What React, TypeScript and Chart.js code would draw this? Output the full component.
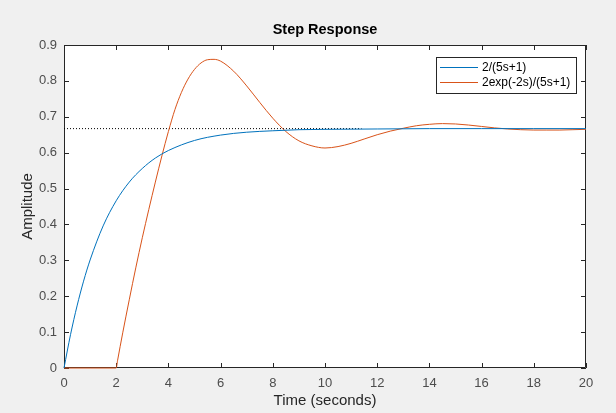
import React, { useEffect, useRef } from "react";
import { Chart, registerables } from "chart.js";

Chart.register(...registerables);

// Time samples (seconds)
const blueTimes = [0, 0.25, 0.5, 0.75, 1, 1.5, 2, 2.5, 3, 3.5, 4, 5, 6, 7, 8, 9, 10, 12, 14, 16, 18, 20];
const blueValues = [0, 0.093, 0.173, 0.242, 0.301, 0.396, 0.466, 0.518, 0.556, 0.585, 0.606, 0.634, 0.649, 0.657, 0.661, 0.664, 0.665, 0.666, 0.667, 0.667, 0.667, 0.667];

const orangeTimes = [0, 1, 2, 2.05, 2.25, 2.5, 2.75, 3, 3.25, 3.5, 3.75, 4, 4.25, 4.5, 4.75, 5, 5.25, 5.5, 5.75, 6, 6.5, 7, 7.5, 8, 8.5, 9, 9.5, 10, 10.5, 11, 11.5, 12, 12.5, 13, 13.5, 14, 14.5, 15, 15.5, 16, 16.5, 17, 17.5, 18, 18.5, 19, 19.5, 20];
const orangeValues = [0, 0, 0, 0.020, 0.098, 0.190, 0.279, 0.363, 0.442, 0.518, 0.591, 0.659, 0.720, 0.768, 0.805, 0.832, 0.850, 0.859, 0.860, 0.855, 0.827, 0.786, 0.740, 0.696, 0.659, 0.633, 0.619, 0.613, 0.617, 0.626, 0.638, 0.650, 0.660, 0.668, 0.675, 0.679, 0.681, 0.680, 0.677, 0.673, 0.669, 0.666, 0.664, 0.663, 0.663, 0.663, 0.664, 0.665];

const steadyTimes = [0, 11.4];
const steadyValues = [0.667, 0.667];

const seriesLabels = ["2/(5s+1)", "2exp(-2s)/(5s+1)"];
const xTicks = [0, 2, 4, 6, 8, 10, 12, 14, 16, 18, 20];
const yTicks = [0, 0.1, 0.2, 0.3, 0.4, 0.5, 0.6, 0.7, 0.8, 0.9];

const FONT = "'Liberation Sans', Arial, sans-serif";
const FRAME = "#262626";

const toPts = (xs: number[], ys: number[]) => xs.map((x, i) => ({ x, y: ys[i] }));

const framePlugin = {
  id: "matlabFrame",
  beforeDraw(chart: any) {
    const { ctx, chartArea: a, width, height } = chart;
    ctx.save();
    ctx.fillStyle = "#f0f0f0";
    ctx.fillRect(0, 0, width, height);
    ctx.fillStyle = "#ffffff";
    ctx.fillRect(a.left, a.top, a.right - a.left, a.bottom - a.top);
    ctx.restore();
  },
  beforeDatasetsDraw(chart: any) {
    const { ctx, chartArea: a, scales } = chart;
    ctx.save();
    ctx.strokeStyle = FRAME;
    ctx.lineWidth = 1;
    ctx.beginPath();
    ctx.rect(Math.round(a.left) + 0.5, Math.round(a.top) + 0.5, Math.round(a.right - a.left) - 1, Math.round(a.bottom - a.top) - 1);
    ctx.stroke();
    const tl = 5;
    ctx.beginPath();
    xTicks.forEach((v) => {
      const px = Math.round(scales.x.getPixelForValue(v)) + 0.5;
      ctx.moveTo(px, a.bottom);
      ctx.lineTo(px, a.bottom - tl);
      ctx.moveTo(px, a.top);
      ctx.lineTo(px, a.top + tl);
    });
    yTicks.forEach((v) => {
      const py = Math.round(scales.y.getPixelForValue(v)) + 0.5;
      ctx.moveTo(a.left, py);
      ctx.lineTo(a.left + tl, py);
      ctx.moveTo(a.right, py);
      ctx.lineTo(a.right - tl, py);
    });
    ctx.stroke();

    // Title
    ctx.fillStyle = "#000000";
    ctx.font = `bold 14.5px ${FONT}`;
    ctx.textAlign = "center";
    ctx.textBaseline = "middle";
    const cx = (a.left + a.right) / 2;
    ctx.fillText("Step Response", cx, a.top - 15);

    // Axis titles
    ctx.fillStyle = "#262626";
    ctx.font = `15px ${FONT}`;
    ctx.fillText("Time (seconds)", cx, a.bottom + 33);
    ctx.save();
    ctx.translate(28, (a.top + a.bottom) / 2);
    ctx.rotate(-Math.PI / 2);
    ctx.fillText("Amplitude", 0, 0);
    ctx.restore();
    ctx.restore();
  },
  afterDatasetsDraw(chart: any) {
    const { ctx, chartArea: a } = chart;
    ctx.save();
    // Legend
    const ds = chart.data.datasets;
    const lw = 140;
    const lh = 36;
    const lx = a.right - 10 - lw;
    const ly = a.top + 12;
    ctx.lineWidth = 1;
    ctx.fillStyle = "#ffffff";
    ctx.fillRect(lx, ly, lw, lh);
    ctx.strokeStyle = FRAME;
    ctx.strokeRect(lx + 0.5, ly + 0.5, lw, lh);
    ctx.font = `12px ${FONT}`;
    ctx.textAlign = "left";
    ctx.textBaseline = "middle";
    ctx.fillStyle = "#000000";
    [0, 1].forEach((i) => {
      const yy = ly + 10 + i * 15;
      ctx.strokeStyle = ds[i].borderColor;
      ctx.beginPath();
      ctx.moveTo(lx + 4, yy + 0.5);
      ctx.lineTo(lx + 42, yy + 0.5);
      ctx.stroke();
      ctx.fillText(seriesLabels[i], lx + 46, yy + 1);
    });
    ctx.restore();
  },
};

export default function App() {
  const ref = useRef<HTMLCanvasElement | null>(null);
  useEffect(() => {
    document.body.style.margin = "0";
    const canvas = ref.current!;
    const chart = new Chart(canvas, {
      type: "line",
      data: {
        datasets: [
          {
            label: seriesLabels[0],
            data: toPts(blueTimes, blueValues),
            borderColor: "#0072BD",
            borderWidth: 1,
            pointRadius: 0,
            cubicInterpolationMode: "monotone",
            fill: false,
            clip: false,
          },
          {
            label: seriesLabels[1],
            data: toPts(orangeTimes, orangeValues),
            borderColor: "#D95319",
            borderWidth: 1,
            pointRadius: 0,
            cubicInterpolationMode: "monotone",
            fill: false,
            clip: false,
          },
          {
            label: "steady",
            data: toPts(steadyTimes, steadyValues),
            borderColor: "#000000",
            borderWidth: 1,
            borderDash: [1, 2],
            pointRadius: 0,
            fill: false,
          },
        ],
      },
      options: {
        responsive: false,
        animation: false,
        devicePixelRatio: 1,
        layout: { padding: { top: 45, right: 30, left: 0, bottom: 0 } },
        plugins: { legend: { display: false }, tooltip: { enabled: false }, title: { display: false } },
        scales: {
          x: {
            type: "linear",
            min: 0,
            max: 20,
            afterFit: (s: any) => { s.height = 45; },
            afterBuildTicks: (s: any) => { s.ticks = xTicks.map((v) => ({ value: v })); },
            grid: { display: false, drawTicks: false },
            border: { display: false },
            ticks: { color: "#4d4d4d", font: { family: FONT, size: 13 }, padding: 8, maxRotation: 0, autoSkip: false },
          },
          y: {
            type: "linear",
            min: 0,
            max: 0.9,
            afterFit: (s: any) => { s.width = 64; },
            afterBuildTicks: (s: any) => { s.ticks = yTicks.map((v) => ({ value: v })); },
            grid: { display: false, drawTicks: false },
            border: { display: false },
            ticks: { color: "#4d4d4d", font: { family: FONT, size: 13 }, padding: 7, autoSkip: false, callback: (v: any) => String(Math.round(v * 10) / 10) },
          },
        },
      },
      plugins: [framePlugin],
    } as any);
    return () => chart.destroy();
  }, []);
  return <canvas ref={ref} width={616} height={413} style={{ display: "block", width: 616, height: 413 }} />;
}
